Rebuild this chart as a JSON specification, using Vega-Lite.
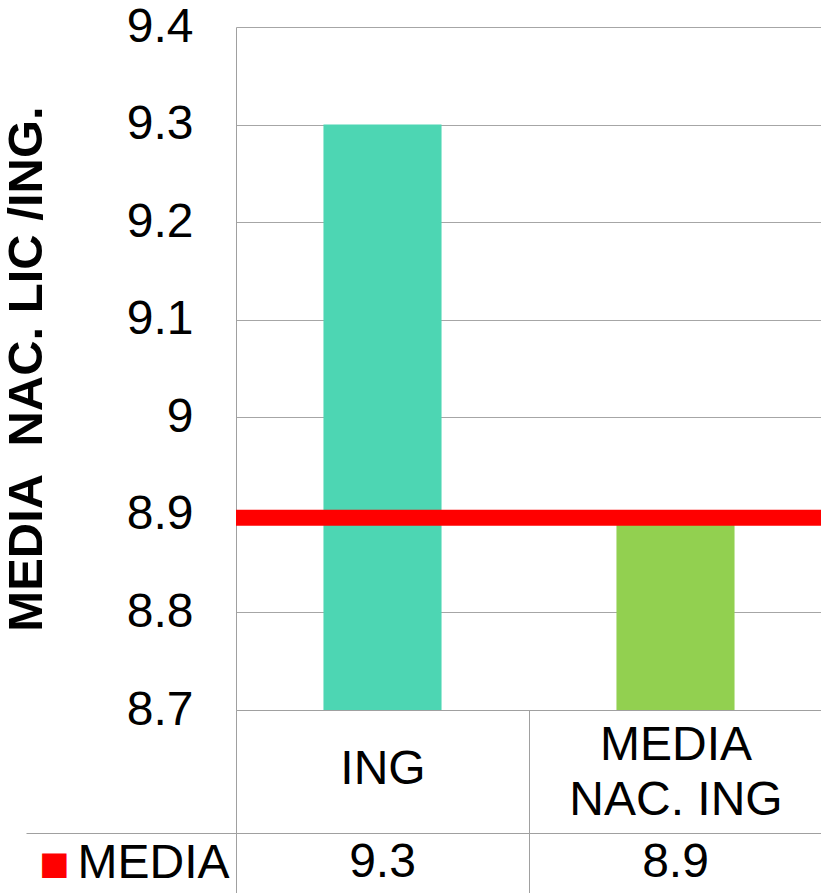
{
  "$schema": "https://vega.github.io/schema/vega-lite/v6.json",
  "padding": {"left": 2, "top": 3, "right": 0, "bottom": 0},
  "background": "white",
  "spacing": 123,
  "bounds": "flush",
  "resolve": {"scale": {"color": "independent"}},
  "config": {
    "font": "Liberation Sans",
    "view": {"stroke": null},
    "axis": {"labelFont": "Liberation Sans", "titleFont": "Liberation Sans"},
    "text": {"font": "Liberation Sans"}
  },
  "datasets": {
    "bars": [
      {"cat": "ING", "value": 9.3, "serie": "MEDIA"},
      {"cat": "MEDIA NAC. ING", "value": 8.9, "serie": "MEDIA"}
    ],
    "media": [{"serie": "MEDIA", "value": 8.9}]
  },
  "vconcat": [
    {
      "width": 586,
      "height": 683,
      "data": {"name": "bars"},
      "layer": [
        {
          "mark": {"type": "bar", "width": {"band": 0.403}},
          "encoding": {
            "x": {
              "field": "cat", "type": "nominal", "sort": null,
              "scale": {"paddingInner": 0, "paddingOuter": 0},
              "axis": {
                "title": null, "labelAngle": 0, "labelFontSize": 48, "labelColor": "black",
                "labelBaseline": {"condition": {"test": "datum.value == 'ING'", "value": "top"}, "value": "middle"},
                "labelPadding": -88, "labelLineHeight": 55,
                "labelExpr": "datum.value == 'MEDIA NAC. ING' ? ['MEDIA', 'NAC. ING'] : (datum.value == 'ING' ? 'ING' : '')",
                "tickBand": "extent", "tickSize": 123, "tickColor": "#A0A0A0", "tickWidth": 1,
                "domainColor": "#A0A0A0", "labelLimit": 0, "grid": false
              }
            },
            "y": {
              "field": "value", "type": "quantitative",
              "scale": {"domain": [8.7, 9.4], "zero": false, "nice": false, "clamp": true},
              "axis": {
                "values": [8.7, 8.8, 8.9, 9, 9.1, 9.2, 9.3, 9.4], "format": "~g",
                "title": "MEDIA\u00a0 NAC. LIC /ING.", "titleFontSize": 49, "titleFontWeight": "bold",
                "titleColor": "black", "titlePadding": 75,
                "labelFontSize": 48, "labelColor": "black", "labelPadding": 43, "labelFlush": false,
                "labelOverlap": false, "ticks": false, "domainColor": "#A0A0A0",
                "grid": true, "gridColor": "#A6A6A6"
              }
            },
            "color": {
              "field": "cat", "type": "nominal",
              "scale": {"domain": ["ING", "MEDIA NAC. ING"], "range": ["#4DD6B3", "#92D050"]}, "legend": null
            }
          }
        },
        {
          "data": {"name": "media"},
          "mark": {"type": "rule", "color": "#FF0000", "strokeWidth": 16, "yOffset": 3, "clip": false},
          "encoding": {"y": {"field": "value", "type": "quantitative"}}
        }
      ]
    },
    {
      "width": 586,
      "height": 60,
      "view": {"stroke": "#A0A0A0"},
      "data": {"name": "bars"},
      "mark": {"type": "text", "fontSize": 48, "color": "black"},
      "encoding": {
        "x": {
          "field": "cat", "type": "nominal", "sort": null,
          "scale": {"paddingInner": 0, "paddingOuter": 0},
          "axis": {"title": null, "labels": false, "ticks": false, "domain": false, "grid": true, "tickBand": "extent", "gridColor": "#A0A0A0"}
        },
        "y": {
          "field": "serie", "type": "nominal",
          "scale": {"paddingInner": 0, "paddingOuter": 0},
          "axis": {
            "title": "■", "titleFont": "DejaVu Sans", "titleFontSize": 32, "titleColor": "#FF0000",
            "titleAngle": 0, "titleAlign": "right", "titleBaseline": "middle", "titlePadding": -33,
            "labelFontSize": 48, "labelColor": "black", "labelPadding": -203, "labelBaseline": "middle",
            "tickBand": "extent", "tickSize": 210, "tickColor": "#A0A0A0", "domain": false, "grid": false
          }
        },
        "text": {"field": "value", "type": "quantitative", "format": ".1f"}
      }
    }
  ]
}
